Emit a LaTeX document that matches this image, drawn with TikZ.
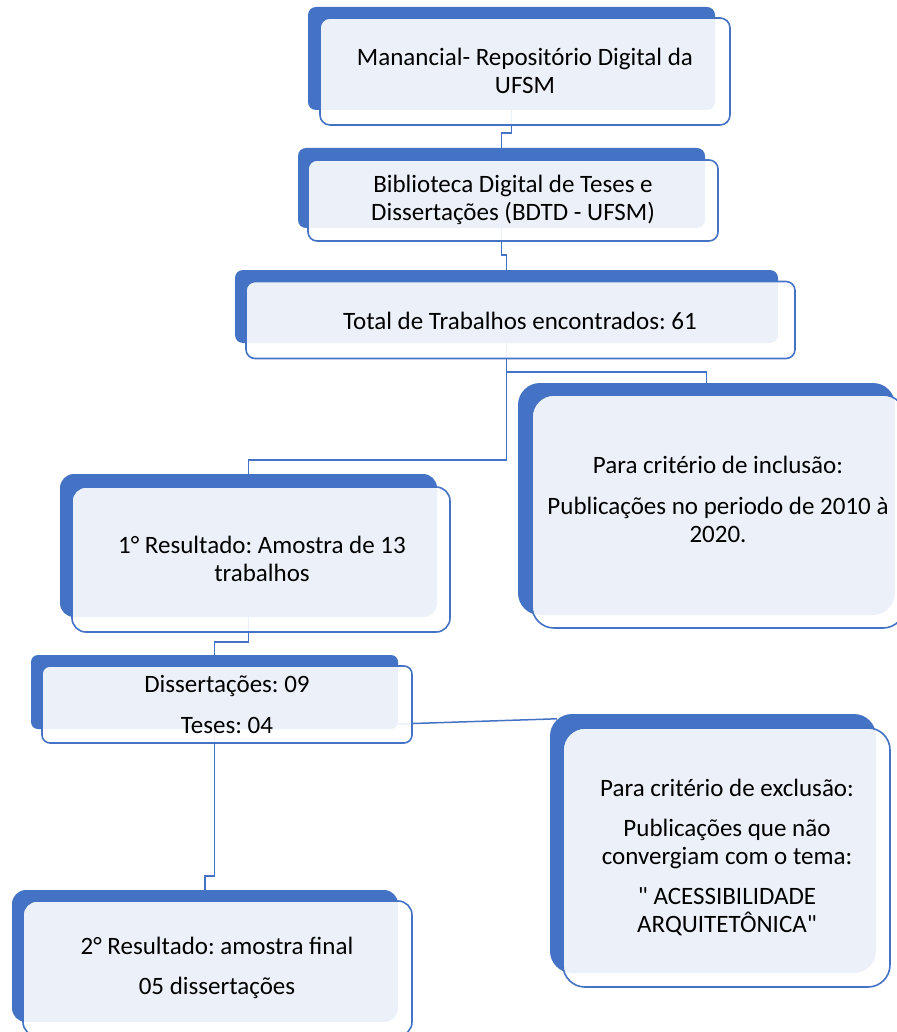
\documentclass[tikz,border=0pt]{standalone}
\usepackage{fontspec}
\setmainfont{Carlito}
\usetikzlibrary{calc}
\definecolor{smartblue}{HTML}{4472C4}
\tikzset{
  backpanel/.style={fill=smartblue, rounded corners=#1, inner sep=0pt},
  backpanel/.default=8pt,
  frontpanel/.style={draw=smartblue, line width=1.6pt, fill=white, fill opacity=0.9,
    rounded corners=#1, inner sep=0pt},
  frontpanel/.default=9pt,
  boxtext/.style={align=center, inner sep=0pt, font=\fontsize{25}{28}\selectfont\frenchspacing},
  link/.style={draw=smartblue, line width=1.5pt},
}
\begin{document}
\begin{tikzpicture}[x=1pt, y=-1pt]
\useasboundingbox (0,0) rectangle (896,1032);
% back panels
\node[backpanel, minimum width=407, minimum height=103] (b1) at (511.5,58.5) {};
\node[backpanel, minimum width=407, minimum height=80] (b2) at (501.5,188) {};
\node[backpanel, minimum width=543, minimum height=73] (b3) at (506.5,306.5) {};
\node[backpanel=22pt, minimum width=377, minimum height=232] (b4) at (706.5,499) {};
\node[backpanel=14pt, minimum width=377, minimum height=143] (b5) at (248.5,545.5) {};
\node[backpanel=7pt, minimum width=367, minimum height=74] (b6) at (214.5,692) {};
\node[backpanel=14pt, minimum width=386, minimum height=132] (b7) at (205,956) {};
\node[backpanel=22pt, minimum width=326, minimum height=259] (b8) at (713,843.5) {};
% connectors
\draw[link] (b1.south) -- ++(0,23) -| (b2.north);
\draw[link] (b2.south) -- ++(0,27) -| (b3.north);
\draw[link] (b3.south) -- ++(0,29) -| (b4.north);
\draw[link] (b3.south) -- ++(0,117) -| (b5.north);
\draw[link] (b5.south) -- ++(0,25) -| (b6.north);
\draw[link] (b6.south) -- ++(0,147) -| (b7.north);
\coordinate (c8) at ($(b8.north west)+(7,5)$);
\draw[link] ($(b6.east)+(0,32)$) -- (c8);
% front panels
\node[frontpanel=10pt, minimum width=410, minimum height=107] (f1) at (525,71.5) {};
\node[frontpanel, minimum width=410, minimum height=81] (f2) at (513,200.5) {};
\node[frontpanel, minimum width=549, minimum height=77] (f3) at (520.5,320) {};
\node[frontpanel=22pt, minimum width=373, minimum height=233] (f4) at (718.5,511.5) {};
\node[frontpanel=14pt, minimum width=378, minimum height=145] (f5) at (261,559.5) {};
\node[frontpanel=8pt, minimum width=370, minimum height=77] (f6) at (227,704.5) {};
\node[frontpanel=14pt, minimum width=389, minimum height=135] (f7) at (217.5,968.5) {};
\node[frontpanel=22pt, minimum width=327, minimum height=259] (f8) at (726.5,857.5) {};
% texts
\node[boxtext] (t1) at (525,71) {Manancial- Repositório Digital da\\UFSM};
\node[boxtext] (t2) at (513,200) {Biblioteca Digital de Teses e\\Dissertações (BDTD - UFSM)};
\node[boxtext] (t3) at (520,321) {Total de Trabalhos encontrados: 61};
\node[boxtext] (t4) at (718,499) {Para critério de inclusão:\\[13pt]Publicações no periodo de 2010 à\\2020.};
\node[boxtext] (t5) at (262,558.5) {1° Resultado: Amostra de 13\\trabalhos};
\node[boxtext] (t6) at (227,704) {Dissertações: 09\\[13pt]Teses: 04};
\node[boxtext] (t7) at (217,968) {2° Resultado: amostra final\\[12pt]05 dissertações};
\node[boxtext] (t8) at (727,857.5) {Para critério de exclusão:\\[12pt]Publicações que não\\convergiam com o tema:\\[12pt]\textquotedbl{} ACESSIBILIDADE\\ARQUITETÔNICA\textquotedbl};
\end{tikzpicture}
\end{document}
